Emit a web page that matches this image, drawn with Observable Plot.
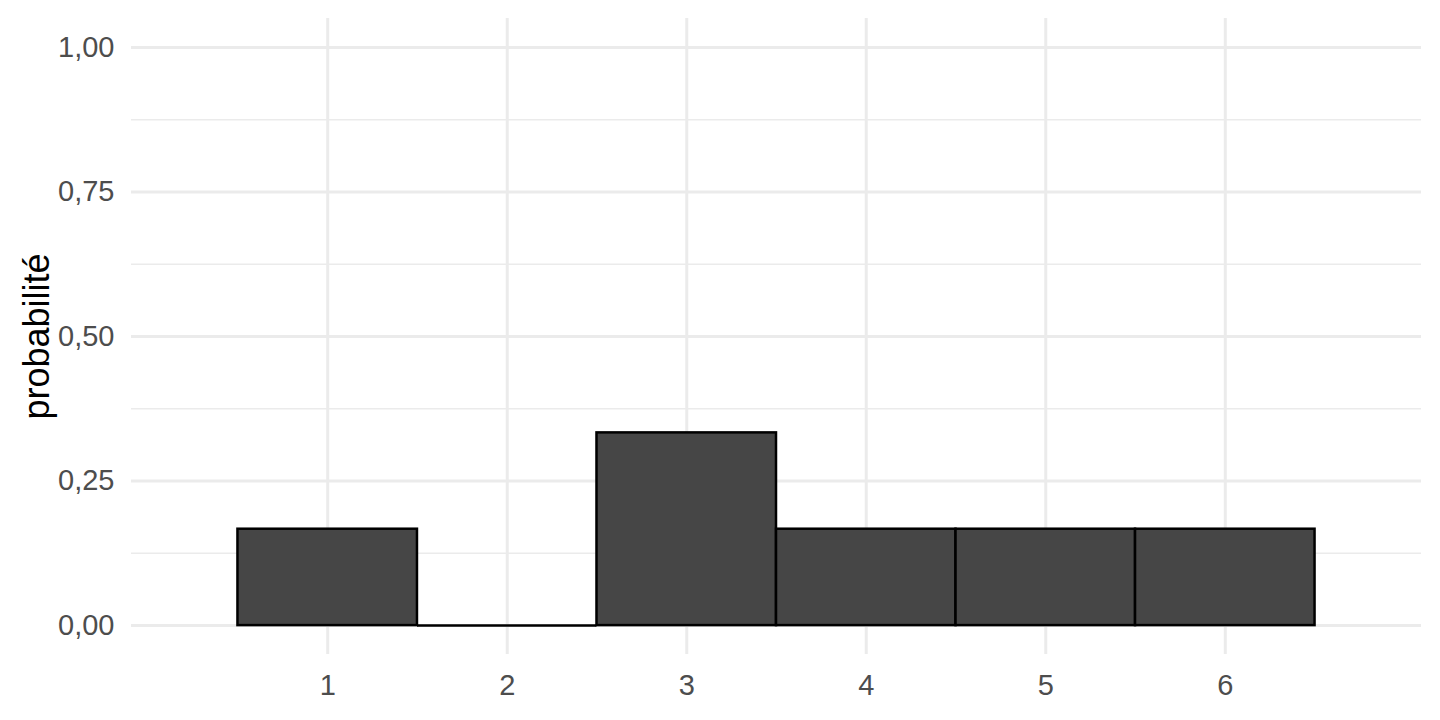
<!DOCTYPE html>
<html>
<head>
<meta charset="utf-8">
<script src="https://cdn.jsdelivr.net/npm/d3@7"></script>
<script src="https://cdn.jsdelivr.net/npm/@observablehq/plot@0.6"></script>
<style>
  html, body { margin: 0; padding: 0; background: #fff; }
  #chart svg { display: block; }
</style>
</head>
<body>
<div id="chart"></div>
<script>
const faces = [1, 2, 3, 4, 5, 6];
const probs = [0.1667, 0, 0.3333, 0.1667, 0.1667, 0.1667];
const yMajor = [0, 0.25, 0.5, 0.75, 1];
const yMinor = [0.125, 0.375, 0.625, 0.875];
const xTicks = [1, 2, 3, 4, 5, 6];
const yLabel = "probabilité";

const data = faces.map((f, i) => ({face: f, p: probs[i]}));
const fmt = v => d3.format(".2f")(v).replace(".", ",");
const FONT = "'Liberation Sans', Arial, sans-serif";

const chart = Plot.plot({
  width: 1440,
  height: 720,
  marginLeft: 131,
  marginRight: 19,
  marginTop: 18,
  marginBottom: 66,
  style: {fontFamily: FONT, background: "#fff"},
  x: {domain: [-0.093, 7.093], axis: null},
  y: {domain: [-0.05, 1.05], axis: null},
  marks: [
    Plot.gridY(yMinor, {stroke: "#ebebeb", strokeOpacity: 1, strokeWidth: 1.6}),
    Plot.gridY(yMajor, {stroke: "#ebebeb", strokeOpacity: 1, strokeWidth: 3}),
    Plot.gridX(xTicks, {stroke: "#ebebeb", strokeOpacity: 1, strokeWidth: 3}),
    Plot.rectY(data.filter(d => d.p > 0), {
      x1: d => d.face - 0.5,
      x2: d => d.face + 0.5,
      y1: 0,
      y2: "p",
      fill: "#464646",
      stroke: "#000",
      strokeWidth: 2.5
    }),
    Plot.ruleY(data.filter(d => d.p === 0), {
      x1: d => d.face - 0.5,
      x2: d => d.face + 0.5,
      y: "p",
      stroke: "#000",
      strokeWidth: 2.5
    }),
    Plot.text(yMajor, {
      y: d => d,
      text: fmt,
      frameAnchor: "left",
      dx: -17,
      textAnchor: "end",
      lineAnchor: "middle",
      fontSize: 29,
      fill: "#4d4d4d"
    }),
    Plot.text(xTicks, {
      x: d => d,
      text: d => String(d),
      frameAnchor: "bottom",
      dy: 20,
      lineAnchor: "top",
      fontSize: 29,
      fill: "#4d4d4d"
    }),
    Plot.text([yLabel], {
      text: d => d,
      frameAnchor: "left",
      dx: -94,
      rotate: -90,
      textAnchor: "middle",
      lineAnchor: "middle",
      fontSize: 36,
      fill: "#000"
    })
  ]
});
document.getElementById("chart").appendChild(chart);
</script>
</body>
</html>
